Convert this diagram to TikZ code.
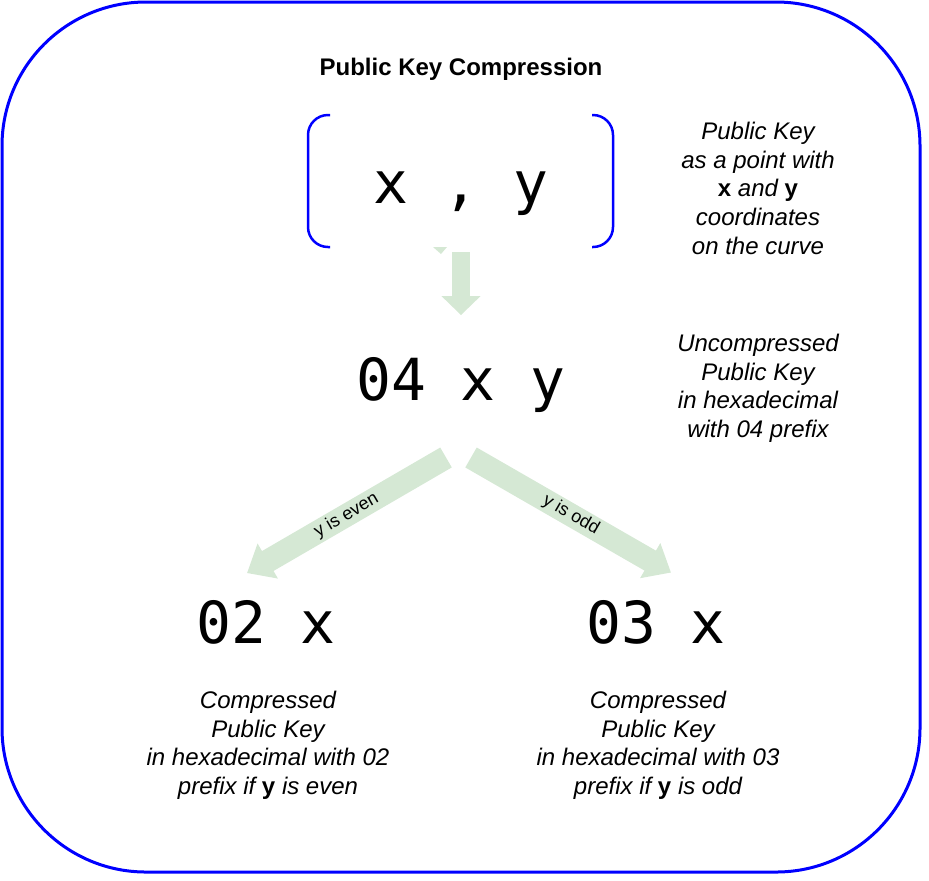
\documentclass[tikz,border=0pt]{standalone}
\usepackage{fontspec}
\setmainfont{Liberation Sans}
\newfontfamily\keymono{DejaVu Sans Mono}
\usetikzlibrary{arrows.meta}
\definecolor{arrowgreen}{HTML}{D5E8D4}

\begin{document}
\begin{tikzpicture}[x=0.5pt,y=-0.5pt,
        key/.style={anchor=base, inner sep=0pt, font=\keymono\fontsize{29}{34}\selectfont},
        note/.style={anchor=north, inner sep=0pt, align=center, font=\itshape\fontsize{12}{14.4}\selectfont},
        fatarrow/.style={draw=arrowgreen, line width=11.5pt, -{Triangle[length=12pt,width=19.5pt]}},
        downarrow/.style={draw=arrowgreen, line width=9pt, -{Triangle[length=9.5pt,width=19pt]}},
        bracket/.style={draw=blue, line width=1.25pt, rounded corners=10pt}]
        \useasboundingbox (0,0) rectangle (929,880);
        \draw[draw=blue, line width=1.5pt, rounded corners=72pt] (2,2) rectangle (920,872);

        \node(title) at (461,75) [anchor=base, font=\bfseries\fontsize{12}{14.4}\selectfont]{Public Key Compression};

        \node(pt) at (461,203) [key]{x , y};
        \node(unc) at (461,400) [key]{04 x y};
        \node(even) at (266,643) [key]{02 x};
        \node(odd) at (656,643) [key]{03 x};

        \draw[bracket] (330,115) -- (308,115) -- (308,247) -- (330,247);
        \draw[bracket] (592,115) -- (613,115) -- (613,247) -- (592,247);

        \node(ptn) at (758,121.5) [note]{Public Key\\as a point with\\{\upshape\bfseries x} and {\upshape\bfseries y}\\coordinates\\on the curve};
        \node(uncn) at (758,333.5) [note]{Uncompressed\\Public Key\\in hexadecimal\\with 04 prefix};
        \node(evenn) at (268,690.5) [note]{Compressed\\Public Key\\in hexadecimal with 02\\prefix if {\upshape\bfseries y} is even};
        \node(oddn) at (658,690.5) [note]{Compressed\\Public Key\\in hexadecimal with 03\\prefix if {\upshape\bfseries y} is odd};

        \fill[arrowgreen] (433,247) -- (447,247) -- (441,254) -- cycle;
        \draw[downarrow] ([shift={(0,37)}]pt.south) -- ([shift={(0,-41.5)}]unc.north);
        \draw[fatarrow] ([shift={(-15,45)}]unc.south) -- ([shift={(-19,-26.5)}]even.north)
            node[midway, sloped, font=\fontsize{9}{10.8}\selectfont]{y is even};
        \draw[fatarrow] ([shift={(10,45)}]unc.south) -- ([shift={(15,-27)}]odd.north)
            node[midway, sloped, font=\fontsize{9}{10.8}\selectfont]{y is odd};

    \end{tikzpicture}
\end{document}
